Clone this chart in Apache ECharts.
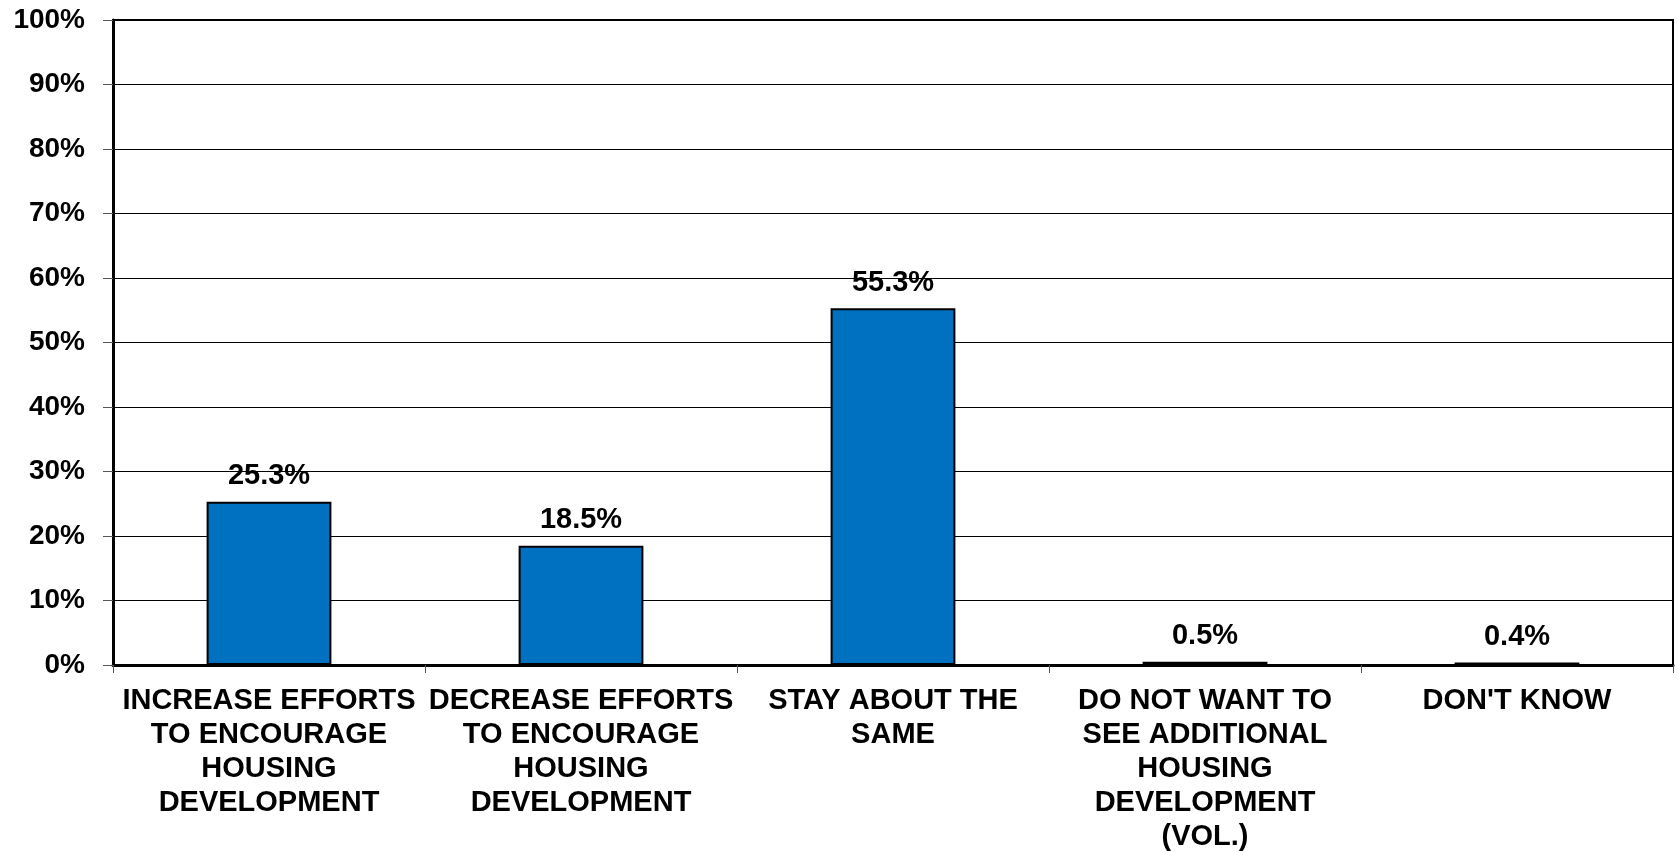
<!DOCTYPE html>
<html>
<head>
<meta charset="utf-8">
<script src="https://cdn.jsdelivr.net/npm/echarts@6/dist/echarts.min.js"></script>
<style>
html,body{margin:0;padding:0;background:#fff;}
#chart{width:1679px;height:851px;}
</style>
</head>
<body>
<div id="chart"></div>
<script>
const categories = [
  'INCREASE EFFORTS\nTO ENCOURAGE\nHOUSING\nDEVELOPMENT',
  'DECREASE EFFORTS\nTO ENCOURAGE\nHOUSING\nDEVELOPMENT',
  'STAY ABOUT THE\nSAME',
  'DO NOT WANT TO\nSEE ADDITIONAL\nHOUSING\nDEVELOPMENT\n(VOL.)',
  "DON'T KNOW"
];
const values = [25.3, 18.5, 55.3, 0.5, 0.4];
const yTicks = [0, 10, 20, 30, 40, 50, 60, 70, 80, 90, 100];

const FONT = '"Liberation Sans", Arial, sans-serif';
const chart = echarts.init(document.getElementById('chart'));
chart.setOption({
  backgroundColor: '#fff',
  animation: false,
  grid: {
    left: 113, right: 6, top: 20, bottom: 186,
    outerBoundsMode: 'none', containLabel: false,
    show: true, borderColor: '#000', borderWidth: 2, backgroundColor: 'transparent'
  },
  xAxis: {
    type: 'category',
    data: categories,
    axisLine: { show: true, lineStyle: { color: '#000', width: 3 } },
    axisTick: { show: true, length: 8, lineStyle: { color: '#555', width: 1 } },
    axisLabel: {
      interval: 0, margin: 19, color: '#000', fontFamily: FONT, fontWeight: 'bold',
      fontSize: 29, lineHeight: 34, align: 'center', hideOverlap: false
    }
  },
  yAxis: {
    type: 'value', min: yTicks[0], max: yTicks[yTicks.length - 1], interval: 10,
    axisLine: { show: true, lineStyle: { color: '#000', width: 3 } },
    axisTick: { show: true, length: 10, lineStyle: { color: '#555', width: 1 } },
    splitLine: { show: true, lineStyle: { color: '#000', width: 1 } },
    axisLabel: {
      margin: 28, color: '#000', fontFamily: FONT, fontWeight: 'bold', fontSize: 28,
      formatter: v => v + '%'
    }
  },
  series: [{
    type: 'bar',
    data: values,
    barWidth: '40%',
    itemStyle: { color: '#0070C0', borderColor: '#000', borderWidth: 2 },
    label: {
      show: true, position: 'top', distance: 11, color: '#000',
      fontFamily: FONT, fontWeight: 'bold', fontSize: 29,
      formatter: p => p.value.toFixed(1) + '%'
    }
  }]
});
</script>
</body>
</html>
